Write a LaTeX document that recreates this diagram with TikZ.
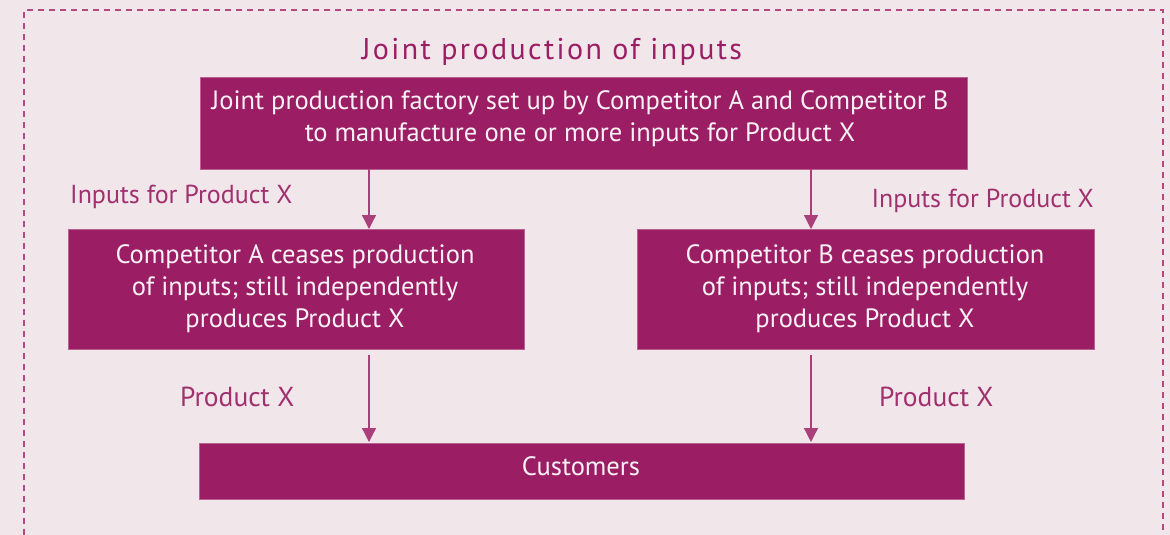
\documentclass[tikz,border=0pt]{standalone}
\usepackage{fontspec}
\setmainfont{PT Sans}
\newfontfamily\titlefont[LetterSpace=8]{PT Sans}
\usetikzlibrary{arrows.meta}
\definecolor{plum}{HTML}{9B1D63}
\definecolor{labelplum}{HTML}{A0306E}
\definecolor{paper}{HTML}{F1E6EA}
\definecolor{frameplum}{HTML}{B5487F}
\begin{document}
\begin{tikzpicture}[x=1pt,y=-1pt,
  block/.style={fill=plum,draw=plum!70!white,line width=0.6pt,inner sep=0pt},
  blocktext/.style={text=white!94!plum,align=center,inner sep=0pt,
    font=\fontsize{26.5}{32}\selectfont},
  lbl/.style={text=labelplum,font=\fontsize{26}{30}\selectfont,inner sep=0pt},
  flow/.style={draw=plum!85!white,line width=1.3pt,-{Triangle[length=14pt,width=14pt]}}]
  % canvas
  \fill[paper] (0,0) rectangle (1170,535);
  \useasboundingbox (0,0) rectangle (1170,535);
  % dashed frame, open at the bottom
  \draw[frameplum,line width=1.4pt,dash pattern=on 6pt off 5pt]
    (24,535) -- (24,10) -- (1163,10) -- (1163,535);
  % title
  \node[text=plum,font=\titlefont\fontsize{30}{34}\selectfont,inner sep=0pt] (title) at (552,52) {Joint production of inputs};
  % boxes
  \node[block,minimum width=767pt,minimum height=92pt] (jv) at (583.5,123) {};
  \node[block,minimum width=456pt,minimum height=120pt] (ca) at (296,289) {};
  \node[block,minimum width=457pt,minimum height=120pt] (cb) at (865.5,289) {};
  \node[block,minimum width=765pt,minimum height=56pt] (cust) at (581.5,471) {};
  % box texts
  \node[blocktext] (jvt) at (580,118.5)
    {Joint production factory set up by Competitor A and Competitor B\\to manufacture one or more inputs for Product X};
  \node[blocktext] (cat) at (295,289)
    {Competitor A ceases production\\of inputs; still independently\\produces Product X};
  \node[blocktext] (cbt) at (865,289)
    {Competitor B ceases production\\of inputs; still independently\\produces Product X};
  \node[blocktext] (custt) at (581,466) {Customers};
  % connector ends
  \coordinate (a1) at (369,169);
  \coordinate (a2) at (369,229);
  \coordinate (b1) at (811,169);
  \coordinate (b2) at (811,229);
  \coordinate (a3) at (369,355);
  \coordinate (a4) at (369,442);
  \coordinate (b3) at (811,355);
  \coordinate (b4) at (811,442);
  \draw[flow] (a1) -- (a2);
  \draw[flow] (b1) -- (b2);
  \draw[flow] (a3) -- (a4);
  \draw[flow] (b3) -- (b4);
  % labels
  \node[lbl,anchor=west] (la) at (70,197) {Inputs for Product X};
  \node[lbl,anchor=east] (lb) at (1094,201) {Inputs for Product X};
  \node[lbl,anchor=west,font=\fontsize{27.5}{30}\selectfont] (pa) at (180,397) {Product X};
  \node[lbl,anchor=west,font=\fontsize{27.5}{30}\selectfont] (pb) at (879,397) {Product X};
\end{tikzpicture}
\end{document}
